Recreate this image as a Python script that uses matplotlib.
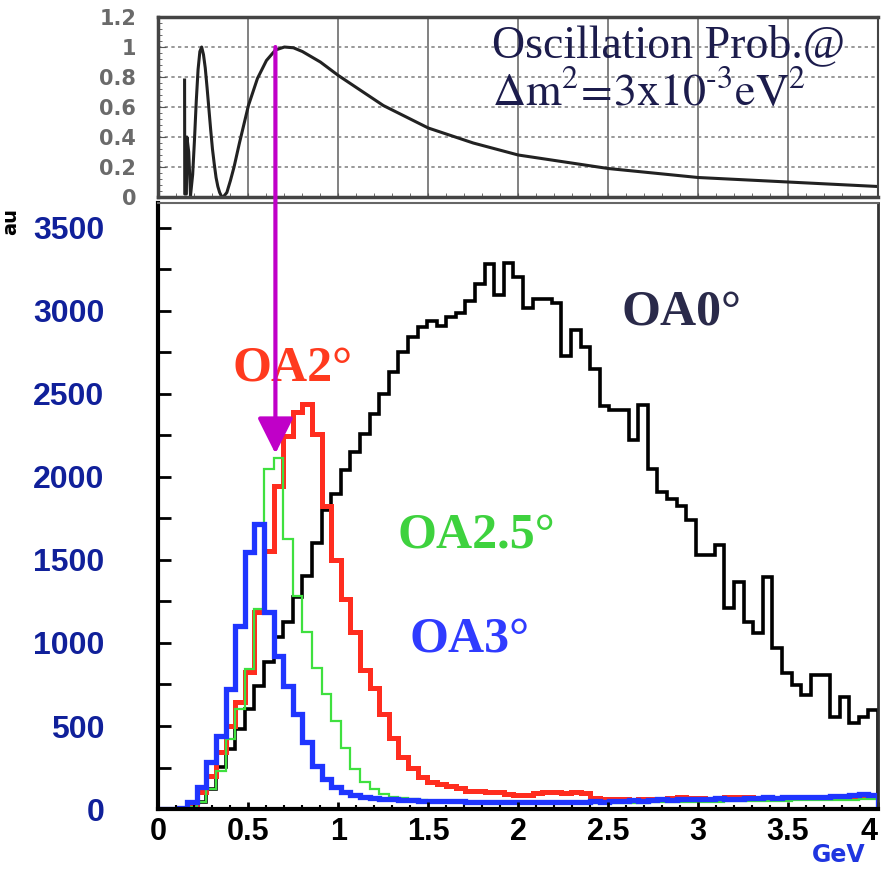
import numpy as np
import matplotlib
matplotlib.use("Agg")
import matplotlib.pyplot as plt
from matplotlib.patches import ConnectionPatch
from matplotlib.ticker import MultipleLocator

plt.rcParams["mathtext.fontset"] = "stix"

# energy binning of the histograms (GeV)
e_min, e_max, n_bins = 0.0, 4.0, 75

# neutrino flux per bin (au)
flux_oa0 = [0, 2, 8, 20, 45, 120, 253, 361, 482, 602, 741, 885, 1036, 1127, 1279,
            1406, 1600, 1800, 1900, 2040, 2150, 2260, 2380, 2500, 2630, 2750, 2840,
            2900, 2940, 2910, 2960, 2990, 3060, 3160, 3283, 3093, 3290, 3205, 3018,
            3072, 3072, 3050, 2726, 2882, 2783, 2648, 2425, 2404, 2404, 2223, 2436,
            2048, 1912, 1867, 1825, 1741, 1530, 1530, 1590, 1211, 1367, 1127, 1060,
            1398, 970, 819, 747, 687, 807, 807, 554, 675, 518, 554, 596]
flux_oa2 = [0, 0, 5, 30, 100, 200, 343, 500, 645, 825, 1185, 1556, 1948, 2249, 2390,
            2440, 2260, 1825, 1500, 1265, 1066, 835, 730, 575, 430, 315, 250, 195,
            165, 150, 140, 125, 110, 108, 105, 100, 90, 85, 85, 95, 100, 100, 95, 100,
            95, 65, 60, 58, 60, 55, 58, 60, 62, 65, 70, 68, 65, 62, 65, 70, 72, 70, 68,
            65, 68, 70, 72, 70, 72, 75, 78, 75, 80, 85, 80]
flux_oa25 = [0, 0, 3, 15, 45, 120, 230, 420, 600, 843, 1205, 2048, 2112, 1627, 1285,
             1064, 850, 690, 530, 370, 240, 165, 120, 90, 75, 65, 58, 52, 48, 45, 42,
             40, 40, 38, 38, 36, 36, 35, 35, 35, 34, 34, 34, 35, 35, 35, 36, 36, 37, 38,
             38, 40, 40, 42, 42, 43, 44, 45, 45, 46, 47, 48, 48, 50, 50, 50, 52, 52, 53,
             54, 55, 55, 56, 58, 60]
flux_oa3 = [0, 0, 8, 40, 130, 281, 442, 723, 1104, 1546, 1717, 1185, 924, 743, 570,
            402, 261, 180, 130, 100, 85, 75, 68, 62, 58, 55, 52, 50, 50, 48, 46, 46, 45,
            44, 44, 42, 42, 40, 42, 42, 40, 42, 44, 42, 44, 46, 45, 48, 50, 52, 50, 55,
            58, 56, 60, 62, 58, 62, 65, 62, 60, 64, 66, 70, 68, 72, 70, 74, 72, 75, 78,
            76, 82, 88, 84]

# oscillation probability curve
osc_e = [0.145, 0.146, 0.155, 0.158, 0.168, 0.178, 0.19, 0.2, 0.21, 0.22, 0.23, 0.24,
         0.25, 0.26, 0.27, 0.28, 0.29, 0.30, 0.31, 0.32, 0.33, 0.34, 0.35, 0.36, 0.38,
         0.40, 0.42, 0.45, 0.50, 0.55, 0.60, 0.65, 0.70, 0.75, 0.80, 0.90, 1.0, 1.1,
         1.25, 1.5, 1.75, 2.0, 2.5, 3.0, 3.5, 4.0]
osc_p = [0.78, 0.02, 0.02, 0.40, 0.30, 0.01, 0.15, 0.38, 0.64, 0.85, 0.97, 1.0, 0.95,
         0.86, 0.73, 0.59, 0.45, 0.32, 0.22, 0.13, 0.07, 0.03, 0.005, 0.0, 0.03, 0.11,
         0.20, 0.36, 0.61, 0.79, 0.91, 0.98, 1.0, 0.995, 0.97, 0.90, 0.81, 0.73, 0.61,
         0.46, 0.36, 0.28, 0.19, 0.13, 0.10, 0.07]

x_ticks = [0, 0.5, 1, 1.5, 2, 2.5, 3, 3.5, 4]
x_labels = ["0", "0.5", "1", "1.5", "2", "2.5", "3", "3.5", "4"]
y_ticks = [0, 500, 1000, 1500, 2000, 2500, 3000, 3500]
p_ticks = [0, 0.2, 0.4, 0.6, 0.8, 1.0, 1.2]
p_labels = ["0", "0.2", "0.4", "0.6", "0.8", "1", "1.2"]

edges = np.linspace(e_min, e_max, n_bins + 1)

fig = plt.figure(figsize=(8.83, 8.69), dpi=100)
ax = fig.add_axes([0.1795, 0.069, 0.8148, 0.6975])
axt = fig.add_axes([0.1795, 0.7733, 0.8148, 0.2071])

# ---- lower panel: fluxes
series = [(flux_oa0, "#000000", 2.6), (flux_oa2, "#ff2d1f", 3.6),
          (flux_oa25, "#3fe03f", 1.6), (flux_oa3, "#1f35ff", 3.8)]
for vals, col, lw in series:
    ax.stairs(vals, edges, color=col, lw=lw, baseline=0, joinstyle="miter")

ax.set_xlim(e_min, e_max)
ax.set_ylim(0, 3650)
ax.set_xticks(x_ticks)
ax.set_xticklabels(x_labels)
ax.set_yticks(y_ticks)
ax.xaxis.set_minor_locator(MultipleLocator(0.1))
ax.yaxis.set_minor_locator(MultipleLocator(250))
ax.tick_params(axis="y", which="both", direction="in", length=9, width=2,
               pad=39, labelsize=23, labelcolor="#10209a")
ax.tick_params(axis="x", which="major", direction="in", length=5, width=2,
               pad=6, labelsize=22)
ax.tick_params(axis="x", which="minor", direction="in", length=3, width=1.5)
for lab in ax.get_xticklabels() + ax.get_yticklabels():
    lab.set_fontweight("bold")
    lab.set_family("Liberation Sans")
# last energy label sits against the right edge, as in the original
ax.get_xticklabels()[-1].set_horizontalalignment("right")
ax.spines["left"].set_linewidth(3)
ax.spines["bottom"].set_linewidth(3)
ax.spines["top"].set_color("#666666")
ax.spines["top"].set_linewidth(1.5)
ax.spines["right"].set_color("#333333")
ax.spines["right"].set_linewidth(2)

lab_kw = dict(family="Liberation Serif", weight="bold", fontsize=36, va="baseline")
ax.text(2.576, 2916, "OA0°", color="#2a2a4a", **lab_kw)
ax.text(0.409, 2578, "OA2°", color="#ff3a1e", **lab_kw)
ax.text(1.331, 1572, "OA2.5°", color="#3ed23e", **lab_kw)
ax.text(1.398, 946, "OA3°", color="#2f3bff", **lab_kw)

# ---- upper panel: oscillation probability
axt.plot(osc_e, osc_p, color="#222222", lw=2.2)
axt.set_xlim(e_min, e_max)
axt.set_ylim(0, 1.2)
axt.set_xticks(x_ticks[1:-1])
axt.set_xticklabels([])
axt.set_yticks(p_ticks)
axt.set_yticklabels(p_labels)
axt.xaxis.set_minor_locator(MultipleLocator(0.1))
axt.yaxis.set_minor_locator(MultipleLocator(0.04))
axt.tick_params(which="both", direction="in", color="#555555")
axt.tick_params(axis="y", which="major", length=6, pad=16, labelsize=15,
                labelcolor="#6a6a6a")
axt.tick_params(axis="y", which="minor", length=3)
axt.tick_params(axis="x", which="both", length=3)
for lab in axt.get_yticklabels():
    lab.set_fontweight("bold")
axt.xaxis.grid(True, color="#777777", lw=1.3)
axt.yaxis.grid(True, color="#888888", lw=1.2, ls=(0, (2, 2)))
for side, lw in [("left", 2.5), ("top", 2.5), ("bottom", 2.5), ("right", 1.5)]:
    axt.spines[side].set_color("#444444")
    axt.spines[side].set_linewidth(lw)

axt.text(1.854, 0.933, "Oscillation Prob.@", family="Liberation Serif",
         fontsize=33, color="#1c1c4c", va="baseline")
axt.text(1.854, 0.61, r"$\mathrm{\Delta m^2\!=\!3x10^{\text{-}3}eV^2}$",
         fontsize=33, color="#1c1c4c", va="baseline")

# ---- arrow from the oscillation maximum down to the OA2.5 peak
con = ConnectionPatch(xyA=(0.65, 1.0), coordsA=axt.transData,
                      xyB=(0.65, 2140), coordsB=ax.transData,
                      arrowstyle="-|>,head_length=1.0,head_width=0.5",
                      mutation_scale=22, color="#c000c8", lw=3,
                      shrinkA=0, shrinkB=0, zorder=10)
fig.add_artist(con)

fig.text(0.0125, 0.745, "au", rotation=90, fontsize=14, weight="bold",
         ha="center", va="center")
fig.text(0.92, 0.016, "GeV", color="#1f35e0", fontsize=17, weight="bold",
         va="center")

fig.savefig("out.png", dpi=100)
